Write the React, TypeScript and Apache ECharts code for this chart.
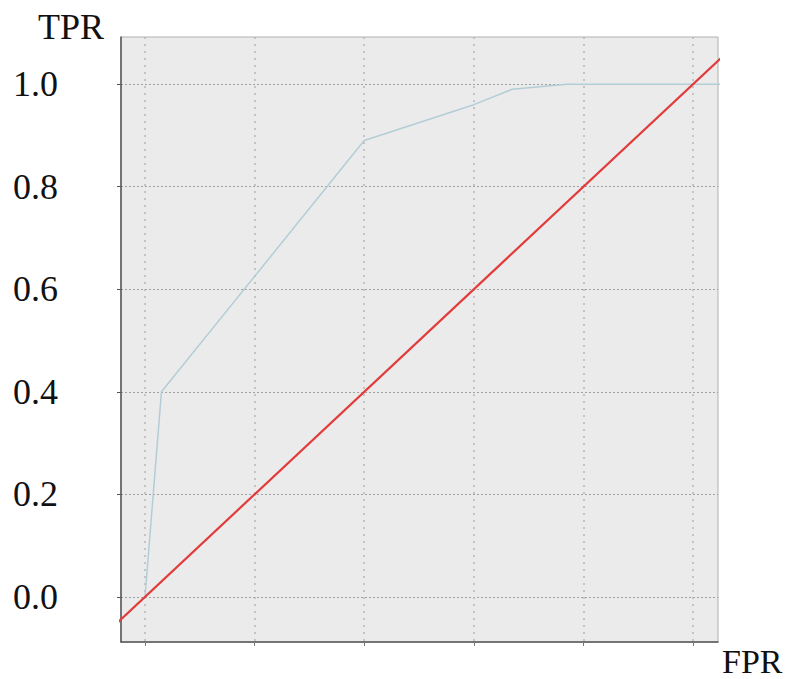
import React, { useEffect, useRef } from "react";
import * as echarts from "echarts";

const rocFpr = [0, 0.03, 0.4, 0.6, 0.67, 0.77, 1.0, 1.05];
const rocTpr = [0, 0.4, 0.89, 0.96, 0.99, 1.0, 1.0, 1.0];
const diagX = [-0.1, 1.1];
const diagY = [-0.1, 1.1];
const tickValues = [0, 0.2, 0.4, 0.6, 0.8, 1.0];
const xTitle = "FPR";
const yTitle = "TPR";

const SERIF = "'Liberation Serif', 'Times New Roman', serif";

export default function App() {
  const ref = useRef<HTMLDivElement>(null);
  useEffect(() => {
    if (!ref.current) return;
    const chart = echarts.init(ref.current, undefined, { renderer: "svg" });
    chart.setOption({
      animation: false,
      backgroundColor: "#ffffff",
      grid: {
        left: 121,
        top: 37,
        right: 69,
        bottom: 37,
        show: true,
        backgroundColor: "#ebebeb",
        borderColor: "#b0b0b0",
        borderWidth: 1,
      },
      xAxis: {
        type: "value",
        min: -0.0438,
        max: 1.0456,
        axisLine: { show: true, onZero: false, lineStyle: { color: "#555", width: 1.5 } },
        axisTick: { show: true, length: 4, customValues: tickValues, lineStyle: { color: "#777" } },
        axisLabel: { show: false },
        splitLine: { show: true, lineStyle: { color: "#b8b8b8", type: [2, 5], width: 1.5 } },
      },
      yAxis: {
        type: "value",
        min: -0.088,
        max: 1.092,
        axisLine: { show: true, onZero: false, lineStyle: { color: "#555", width: 1.5 } },
        axisTick: { show: true, length: 4, customValues: tickValues, lineStyle: { color: "#555" } },
        axisLabel: {
          customValues: tickValues,
          formatter: (v: number) => v.toFixed(1),
          fontFamily: SERIF,
          fontSize: 36,
          color: "#111",
          margin: 63,
        },
        splitLine: { show: true, lineStyle: { color: "#a0a0a0", type: [2, 2], width: 1 } },
      },
      graphic: [
        {
          type: "text",
          x: 38,
          y: 27,
          style: {
            text: yTitle,
            font: `36px ${SERIF}`,
            fill: "#111",
            align: "left",
            verticalAlign: "middle",
            lineHeight: 28,
          },
        },
        {
          type: "text",
          x: 722,
          y: 661,
          style: {
            text: xTitle,
            font: `34px ${SERIF}`,
            fill: "#111",
            align: "left",
            verticalAlign: "middle",
            lineHeight: 26,
          },
        },
      ],
      series: [
        {
          type: "line",
          data: rocFpr.map((x, i) => [x, rocTpr[i]]),
          showSymbol: false,
          clip: true,
          lineStyle: { color: "#b3cdd6", width: 1.5 },
          z: 3,
        },
        {
          type: "line",
          data: diagX.map((x, i) => [x, diagY[i]]),
          showSymbol: false,
          clip: true,
          lineStyle: { color: "#e23b3b", width: 2.2 },
          z: 4,
        },
      ],
    });
    return () => chart.dispose();
  }, []);
  return (
    <div
      ref={ref}
      style={{ position: "fixed", left: 0, top: 0, width: 787, height: 679 }}
    />
  );
}
